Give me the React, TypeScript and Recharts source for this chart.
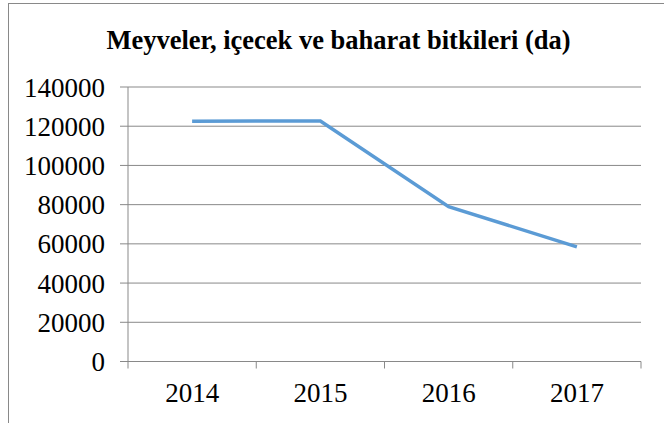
import React from 'react';
import { LineChart, Line, XAxis, YAxis, CartesianGrid } from 'recharts';

const title = 'Meyveler, içecek ve baharat bitkileri (da)';
const years = ['2014', '2015', '2016', '2017'];
const values = [122500, 122700, 79000, 58500];
const yTicks = [0, 20000, 40000, 60000, 80000, 100000, 120000, 140000];

const data = years.map((y, i) => ({ x: i + 0.5, year: y, value: values[i] }));
const xTicks = [0, 0.5, 1, 1.5, 2, 2.5, 3, 3.5, 4];

const FONT = '"Liberation Serif", "Times New Roman", serif';
const GRAY = '#898989';

const XTick = (props: any) => {
  const { x, y, payload } = props;
  const v = payload.value as number;
  if (Number.isInteger(v)) {
    return <line x1={x} x2={x} y1={y} y2={y + 7} stroke={GRAY} strokeWidth={1} />;
  }
  const idx = Math.floor(v);
  return (
    <text x={x} y={y + 40} textAnchor="middle" fontFamily={FONT} fontSize={27} fill="#000">
      {years[idx]}
    </text>
  );
};

export default function App() {
  return (
    <div style={{ position: 'absolute', left: 0, top: 0, width: 664, height: 423, background: '#fff', overflow: 'hidden' }}>
      <div style={{ position: 'absolute', left: 8, top: 3, width: 680, height: 440, border: `1px solid ${GRAY}`, boxSizing: 'border-box' }} />
      <div style={{ position: 'absolute', left: 8, top: 22, width: 661, textAlign: 'center', fontFamily: FONT, fontWeight: 'bold', fontSize: 26.5, lineHeight: '36px', color: '#000', whiteSpace: 'nowrap' }}>
        {title}
      </div>
      <div style={{ position: 'absolute', left: 0, top: 0 }}>
        <LineChart width={664} height={423} data={data} margin={{ top: 87, right: 23, bottom: 0, left: 0 }}>
          <CartesianGrid vertical={false} stroke={GRAY} strokeDasharray="" />
          <XAxis
            dataKey="x"
            type="number"
            domain={[0, 4]}
            ticks={xTicks}
            interval={0}
            tick={<XTick />}
            tickLine={false}
            tickSize={0}
            tickMargin={0}
            axisLine={{ stroke: GRAY }}
            height={61.5}
          />
          <YAxis
            domain={[0, 140000]}
            ticks={yTicks}
            interval={0}
            width={128}
            tickSize={8}
            tickMargin={15}
            tickLine={{ stroke: GRAY }}
            axisLine={{ stroke: GRAY }}
            tick={{ fontFamily: FONT, fontSize: 27, fill: '#000' }}
          />
          <Line dataKey="value" stroke="#5B9BD5" strokeWidth={3.5} dot={false} isAnimationActive={false} />
        </LineChart>
      </div>
    </div>
  );
}
